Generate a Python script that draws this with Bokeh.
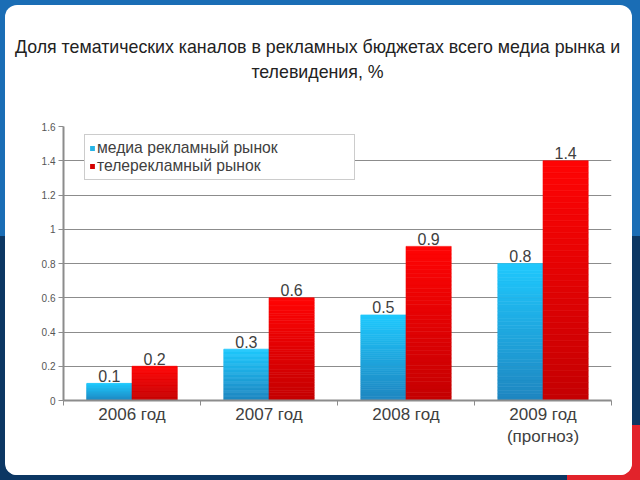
from bokeh.plotting import figure
from bokeh.layouts import column
from bokeh.models import (Range1d, FixedTicker, NumeralTickFormatter, Div,
                          Legend, LegendItem, ColumnDataSource)
from bokeh.core.properties import value
from bokeh.embed import file_html
from bokeh.resources import INLINE

# ---- data ----
years = ["2006 год", "2007 год", "2008 год", "2009 год\n(прогноз)"]
media_share = [0.1, 0.3, 0.5, 0.8]
tv_share = [0.2, 0.6, 0.9, 1.4]
series_names = ["медиа рекламный рынок", "телерекламный рынок"]
y_ticks = [0, 0.2, 0.4, 0.6, 0.8, 1.0, 1.2, 1.4, 1.6]
title_line1 = "Доля тематических каналов в рекламных бюджетах всего медиа рынка и"
title_line2 = "телевидения, %"

FONT = "Liberation Sans"
W = 627
TITLE_H = 90
H = 470 - TITLE_H

title_div = Div(
    text=(f'<div style="display:block;width:{W - 2}px;padding-top:30px;line-height:25px;'
          f'text-align:center;font-family:\'{FONT}\';font-size:17.8px;color:#222222;'
          f'white-space:nowrap;">{title_line1}<br>{title_line2}</div>'),
    width=W, height=TITLE_H, margin=0)

p = figure(width=W, height=H, output_backend="svg", toolbar_location=None,
           x_range=Range1d(0, len(years)), y_range=Range1d(0, 1.6),
           min_border_left=58, min_border_right=21, min_border_top=121 - TITLE_H,
           min_border_bottom=75, background_fill_color="white",
           border_fill_color="white", outline_line_color=None, margin=0)

def hex2rgb(h):
    h = h.lstrip("#")
    return tuple(int(h[i:i + 2], 16) for i in (0, 2, 4))

def mix(c1, c2, t):
    a, b = hex2rgb(c1), hex2rgb(c2)
    return "#%02x%02x%02x" % tuple(int(round(a[i] + (b[i] - a[i]) * t)) for i in range(3))

N = 40
def gradient_bars(vals, offset, top_col, bot_col):
    xs, bots, tops, cols = [], [], [], []
    for i, v in enumerate(vals):
        for k in range(N):
            xs.append(i + 0.5 + offset)
            bots.append(v * k / N)
            tops.append(v * (k + 1) / N)
            cols.append(mix(bot_col, top_col, (k + 0.5) / N))
    src = ColumnDataSource(dict(x=xs, bottom=bots, top=tops, c=cols))
    p.vbar(x="x", bottom="bottom", top="top", width=0.33, source=src,
           fill_color="c", line_color="c", line_width=0.6)

gradient_bars(media_share, -0.165, "#1fc8fd", "#1f86c0")
gradient_bars(tv_share, 0.165, "#ff0404", "#c40002")

# value labels
xs_lab = [i + 0.5 - 0.165 for i in range(len(years))] + [i + 0.5 + 0.165 for i in range(len(years))]
ys_lab = media_share + tv_share
txt = [f"{v:g}" for v in ys_lab]
p.text(x=xs_lab, y=ys_lab, text=txt, text_align="center", text_baseline="alphabetic",
       y_offset=-7.5, text_font=value(FONT), text_font_size="16px", text_color="#404040")

# axes
p.yaxis.ticker = FixedTicker(ticks=y_ticks)
p.yaxis.formatter = NumeralTickFormatter(format="0.[0]")
p.yaxis.major_label_text_font = FONT
p.yaxis.major_label_text_font_size = "10px"
p.yaxis.major_label_text_color = "#555555"
p.yaxis.major_tick_out = 5
p.yaxis.major_tick_in = 0
p.yaxis.major_tick_line_color = "#8c8c8c"
p.yaxis.minor_tick_line_color = None
p.yaxis.axis_line_color = "#8c8c8c"
p.yaxis.axis_line_width = 2
p.yaxis.major_label_standoff = 3

centers = [i + 0.5 for i in range(len(years))]
bounds = [float(i) for i in range(len(years) + 1)]
p.xaxis.ticker = FixedTicker(ticks=centers, minor_ticks=bounds)
p.xaxis.major_label_overrides = {c: y for c, y in zip(centers, years)}
p.xaxis.major_tick_line_color = None
p.xaxis.major_tick_out = 0
p.xaxis.major_tick_in = 0
p.xaxis.minor_tick_out = 5
p.xaxis.minor_tick_in = 0
p.xaxis.minor_tick_line_color = "#8c8c8c"
p.xaxis.axis_line_color = "#8c8c8c"
p.xaxis.axis_line_width = 2
p.xaxis.major_label_text_font = FONT
p.xaxis.major_label_text_font_size = "17px"
p.xaxis.major_label_text_color = "#404040"
p.xaxis.major_label_standoff = -1

p.xgrid.grid_line_color = None
p.ygrid.ticker = FixedTicker(ticks=y_ticks)
p.ygrid.grid_line_color = "#8c8c8c"
p.ygrid.grid_line_width = 1

# legend (swatch renderers sit outside the visible range)
r1 = p.vbar(x=[-5], top=[0.1], width=0.1, fill_color="#26b4e6", line_color=None)
r2 = p.vbar(x=[-5], top=[0.1], width=0.1, fill_color="#d40000", line_color=None)
legend = Legend(items=[LegendItem(label=series_names[0], renderers=[r1]),
                       LegendItem(label=series_names[1], renderers=[r2])],
                location=(21, 220), orientation="vertical",
                label_text_font=FONT, label_text_font_size="15.7px",
                label_text_line_height=1.0,
                label_text_color="#404040", glyph_width=6, glyph_height=6,
                label_standoff=2, label_height=16, label_width=253, spacing=0,
                padding=4, margin=0, border_line_color="#9a9a9a",
                background_fill_color="white", background_fill_alpha=1.0)
p.add_layout(legend, "center")

card = column(title_div, p, margin=(5, 8, 5, 5), spacing=0,
              styles={"background": "white", "border-radius": "12px", "overflow": "hidden"})

bg = ("linear-gradient(#e2232b, #e2232b) right bottom / 73px 55px no-repeat, "
      "linear-gradient(to bottom, #1a6db5 0px, #1a6db5 236px, #0c3763 236px)")
layout = column(card, styles={"background": bg})

open("out.html", "w").write(file_html(layout, INLINE))
